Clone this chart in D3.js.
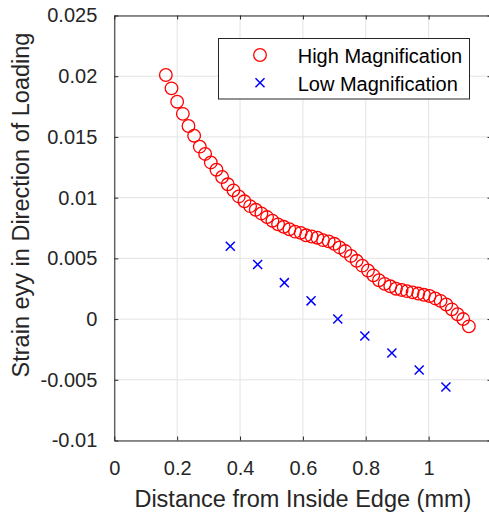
<!DOCTYPE html>
<html>
<head>
<meta charset="utf-8">
<script src="https://cdn.jsdelivr.net/npm/d3@7"></script>
<style>
  body { margin: 0; background: #fff; }
  svg { display: block; font-family: Arial, "Liberation Sans", Helvetica, sans-serif; }
</style>
</head>
<body>
<div id="chart"></div>
<script>
// High magnification series (red circles)
const highX = [0.164, 0.182, 0.200, 0.218, 0.236, 0.254, 0.272, 0.289, 0.307, 0.325,
  0.343, 0.361, 0.379, 0.396, 0.414, 0.432, 0.450, 0.468, 0.486, 0.503,
  0.521, 0.539, 0.557, 0.575, 0.593, 0.610, 0.628, 0.646, 0.664, 0.682,
  0.700, 0.717, 0.735, 0.753, 0.771, 0.789, 0.807, 0.824, 0.842, 0.860,
  0.878, 0.896, 0.914, 0.931, 0.949, 0.967, 0.985, 1.003, 1.021, 1.038,
  1.056, 1.074, 1.092, 1.110, 1.128];
const highY = [0.0201, 0.0190, 0.0179, 0.0169, 0.0159, 0.0151, 0.0142, 0.0136, 0.0129, 0.0123,
  0.0117, 0.0111, 0.0106, 0.0101, 0.0097, 0.0093, 0.0090, 0.0087, 0.0084, 0.0081,
  0.0078, 0.0076, 0.0074, 0.0072, 0.0071, 0.0069, 0.0068, 0.0067, 0.0065, 0.0064,
  0.0062, 0.0059, 0.0056, 0.0052, 0.0048, 0.0044, 0.0040, 0.0036, 0.0032, 0.0029,
  0.0027, 0.0025, 0.0024, 0.0023, 0.0022, 0.0021, 0.0020, 0.0019, 0.0017, 0.0015,
  0.0012, 0.0008, 0.0004, 0.0000, -0.0006];

// Low magnification series (blue crosses)
const lowX = [0.369, 0.456, 0.541, 0.626, 0.711, 0.797, 0.883, 0.970, 1.055];
const lowY = [0.0060, 0.0045, 0.0030, 0.0015, 0.0000, -0.0014, -0.0028, -0.0042, -0.0056];

const xTicks = [0, 0.2, 0.4, 0.6, 0.8, 1.0, 1.2];
const xTickLabels = ["0", "0.2", "0.4", "0.6", "0.8", "1", ""]; // 1.2 falls off the canvas
const yTicks = [-0.01, -0.005, 0, 0.005, 0.01, 0.015, 0.02, 0.025];
const yTickLabels = ["-0.01", "-0.005", "0", "0.005", "0.01", "0.015", "0.02", "0.025"];
const legendLabels = ["High Magnification", "Low Magnification"];

const W = 489, H = 514;
const margin = {top: 15.5, left: 114.3};
const plotW = 377.2, plotH = 425;

const svg = d3.select("#chart").append("svg")
  .attr("width", W).attr("height", H);

const x = d3.scaleLinear().domain([0, 1.2]).range([margin.left, margin.left + plotW]);
const y = d3.scaleLinear().domain([-0.01, 0.025]).range([margin.top + plotH, margin.top]);

const axisColor = "#262626";
const gridColor = "#e3e3e3";

// grid
svg.append("g").selectAll("line").data(xTicks).join("line")
  .attr("x1", d => x(d)).attr("x2", d => x(d))
  .attr("y1", y(-0.01)).attr("y2", y(0.025))
  .attr("stroke", gridColor).attr("stroke-width", 1);
svg.append("g").selectAll("line").data(yTicks).join("line")
  .attr("x1", x(0)).attr("x2", x(1.2))
  .attr("y1", d => y(d)).attr("y2", d => y(d))
  .attr("stroke", gridColor).attr("stroke-width", 1);

// axes (MATLAB-style box with inward ticks)
const xAxis = svg.append("g")
  .attr("transform", `translate(0,${y(-0.01)})`)
  .call(d3.axisBottom(x).tickValues(xTicks).tickFormat((d, i) => xTickLabels[i])
    .tickSizeInner(-4).tickSizeOuter(0).tickPadding(20));
const xTop = svg.append("g")
  .attr("transform", `translate(0,${y(0.025)})`)
  .call(d3.axisTop(x).tickValues(xTicks).tickFormat("").tickSizeInner(-4).tickSizeOuter(0));
const yAxis = svg.append("g")
  .attr("transform", `translate(${x(0)},0)`)
  .call(d3.axisLeft(y).tickValues(yTicks).tickFormat((d, i) => yTickLabels[i])
    .tickSizeInner(-4).tickSizeOuter(0).tickPadding(17));
const yRight = svg.append("g")
  .attr("transform", `translate(${x(1.2)},0)`)
  .call(d3.axisRight(y).tickValues(yTicks).tickFormat("").tickSizeInner(-4).tickSizeOuter(0));

[xAxis, xTop, yAxis, yRight].forEach(g => {
  g.select(".domain").attr("stroke", axisColor).attr("stroke-width", 1);
  g.selectAll(".tick line").attr("stroke", axisColor);
  g.selectAll(".tick text").attr("fill", axisColor)
    .style("font-size", "20px").style("font-family", "Arial, 'Liberation Sans', sans-serif");
});
xAxis.selectAll(".tick text").attr("dy", "0.71em");

// data
const high = highX.map((v, i) => ({x: v, y: highY[i]}));
const low = lowX.map((v, i) => ({x: v, y: lowY[i]}));

svg.append("g").selectAll("circle").data(high).join("circle")
  .attr("cx", d => x(d.x)).attr("cy", d => y(d.y)).attr("r", 6.3)
  .attr("fill", "none").attr("stroke", "#ff0000").attr("stroke-width", 1.3);

const cross = d3.symbol().type(d3.symbolX).size(55);
svg.append("g").selectAll("path").data(low).join("path")
  .attr("transform", d => `translate(${x(d.x)},${y(d.y)})`)
  .attr("d", cross)
  .attr("fill", "none").attr("stroke", "#0000ff").attr("stroke-width", 1.5);

// axis labels
svg.append("text")
  .attr("x", x(0.6)).attr("y", 506.7)
  .attr("text-anchor", "middle")
  .attr("fill", axisColor)
  .style("font-size", "23.5px")
  .text("Distance from Inside Edge (mm)");
svg.append("text")
  .attr("transform", `translate(28.5,205) rotate(-90)`)
  .attr("text-anchor", "middle")
  .attr("fill", axisColor)
  .style("font-size", "23.5px")
  .text("Strain eyy in Direction of Loading");

// legend
const legend = svg.append("g");
legend.append("rect")
  .attr("x", 218.5).attr("y", 38.5).attr("width", 251).attr("height", 60.5)
  .attr("fill", "#fff").attr("stroke", axisColor).attr("stroke-width", 1);
legend.append("circle")
  .attr("cx", 260).attr("cy", 55).attr("r", 6.3)
  .attr("fill", "none").attr("stroke", "#ff0000").attr("stroke-width", 1.3);
legend.append("path")
  .attr("transform", "translate(260,82.7)")
  .attr("d", cross)
  .attr("fill", "none").attr("stroke", "#0000ff").attr("stroke-width", 1.5);
legend.selectAll("text.lbl").data(legendLabels).join("text")
  .attr("class", "lbl")
  .attr("x", 297.7).attr("y", (d, i) => 62.5 + i * 28)
  .attr("fill", "#000")
  .style("font-size", "20px")
  .text(d => d);
</script>
</body>
</html>
